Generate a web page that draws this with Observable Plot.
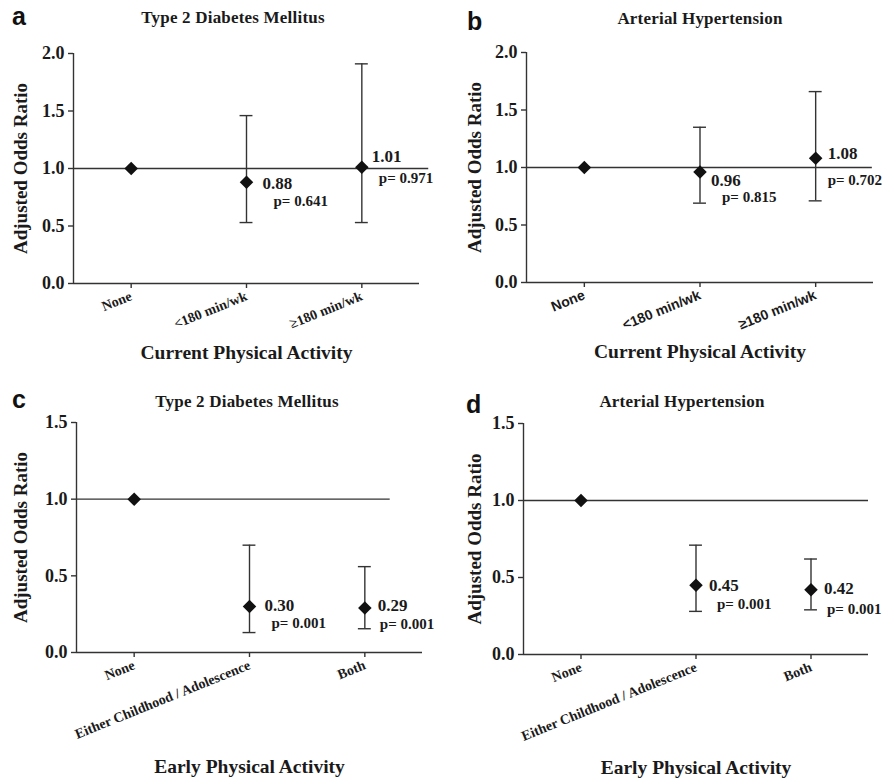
<!DOCTYPE html>
<html>
<head>
<meta charset="utf-8">
<script src="https://cdn.jsdelivr.net/npm/d3@7"></script>
<script src="https://cdn.jsdelivr.net/npm/@observablehq/plot@0.6"></script>
<style>
  html, body { margin: 0; padding: 0; background: #fff; }
  #root { position: relative; width: 882px; height: 780px; background: #fff; overflow: hidden; }
  .panel { position: absolute; width: 441px; }
  .letter { position: absolute; font-family: "Liberation Sans", Arial, sans-serif; font-weight: bold; font-size: 25px; line-height: 26px; color: #111; }
  .title { position: absolute; width: 320px; text-align: center; font-family: "Liberation Serif", "Times New Roman", serif; font-weight: bold; font-size: 17px; line-height: 17px; letter-spacing: 0.2px; color: #1a1a1a; }
  .chart { position: absolute; left: 0; }
</style>
</head>
<body>
<div id="root">
  <div class="panel" id="pa" style="left:0;top:0;height:380px">
    <div class="letter" style="left:12px;top:3px">a</div>
    <div class="title" style="left:73px;top:9px">Type 2 Diabetes Mellitus</div>
    <div class="chart" style="top:30px"></div>
  </div>
  <div class="panel" id="pb" style="left:441px;top:0;height:380px">
    <div class="letter" style="left:26px;top:8px">b</div>
    <div class="title" style="left:99px;top:10px">Arterial Hypertension</div>
    <div class="chart" style="top:30px"></div>
  </div>
  <div class="panel" id="pc" style="left:0;top:380px;height:400px">
    <div class="letter" style="left:12px;top:6px">c</div>
    <div class="title" style="left:87px;top:13px">Type 2 Diabetes Mellitus</div>
    <div class="chart" style="top:30px"></div>
  </div>
  <div class="panel" id="pd" style="left:441px;top:380px;height:400px">
    <div class="letter" style="left:25px;top:11px">d</div>
    <div class="title" style="left:81px;top:13px">Arterial Hypertension</div>
    <div class="chart" style="top:30px"></div>
  </div>
</div>
<script>
// ---------------- data ----------------
const currentCats = ["None", "<180 min/wk", "≥180 min/wk"];
const earlyCats = ["None", "Either Childhood / Adolescence", "Both"];

const dmCurrentOR = [1.00, 0.88, 1.01];
const dmCurrentLo = [null, 0.53, 0.53];
const dmCurrentHi = [null, 1.46, 1.91];
const dmCurrentP  = [null, "0.641", "0.971"];

const htnCurrentOR = [1.00, 0.96, 1.08];
const htnCurrentLo = [null, 0.69, 0.71];
const htnCurrentHi = [null, 1.35, 1.66];
const htnCurrentP  = [null, "0.815", "0.702"];

const dmEarlyOR = [1.00, 0.30, 0.29];
const dmEarlyLo = [null, 0.13, 0.155];
const dmEarlyHi = [null, 0.70, 0.56];
const dmEarlyP  = [null, "0.001", "0.001"];

const htnEarlyOR = [1.00, 0.45, 0.42];
const htnEarlyLo = [null, 0.28, 0.29];
const htnEarlyHi = [null, 0.71, 0.62];
const htnEarlyP  = [null, "0.001", "0.001"];

const ticks20 = [0, 0.5, 1.0, 1.5, 2.0];
const ticks15 = [0, 0.5, 1.0, 1.5];

const yTitle = "Adjusted Odds Ratio";
const xTitleCurrent = "Current Physical Activity";
const xTitleEarly = "Early Physical Activity";

// ---------------- drawing ----------------
const SERIF = '"Liberation Serif", "Times New Roman", serif';
const SANS = '"Liberation Sans", Arial, sans-serif';
const INK = "#1a1a1a";
const LINE = "#333";
const SW = 1.4;

function rows(cats, or, lo, hi, p) {
  return cats.map((c, i) => ({i, cat: c, or: or[i], lo: lo[i], hi: hi[i], p: p[i]}));
}

function panel(cfg) {
  const data = rows(cfg.cats, cfg.or, cfg.lo, cfg.hi, cfg.p);
  const err = data.filter(d => d.lo != null);
  const cap = 0.056;
  const labelMarks = [];
  for (const d of err) {
    const o = cfg.offsets[d.i];
    labelMarks.push(Plot.text([d], {x: "i", y: "or", text: d => d.or.toFixed(2), dx: o[0], dy: o[1], textAnchor: "start", fontSize: 17, fill: INK}));
    labelMarks.push(Plot.text([d], {x: "i", y: "or", text: d => "p= " + d.p, dx: o[2], dy: o[3], textAnchor: "start", fontSize: 15, fill: INK}));
  }
  return Plot.plot({
    width: 441,
    height: cfg.height,
    marginTop: cfg.mt, marginRight: cfg.mr, marginBottom: cfg.mb, marginLeft: cfg.ml,
    style: {background: "transparent", overflow: "visible", fontFamily: SERIF, fontWeight: "bold", color: INK},
    x: {type: "linear", domain: [-0.5, 2.5]},
    y: {type: "linear", domain: cfg.yDomain},
    marks: [
      Plot.ruleY([1], {x1: -0.5, x2: cfg.refEnd, stroke: LINE, strokeWidth: SW}),
      Plot.ruleX([-0.5], {stroke: LINE, strokeWidth: SW}),
      Plot.ruleY([0], {stroke: LINE, strokeWidth: SW}),
      Plot.axisY({ticks: cfg.yTicks, tickFormat: d3.format(".1f"), tickSize: 5, tickPadding: 4, fontSize: 18, label: null, stroke: LINE, strokeWidth: SW, fill: INK}),
      Plot.axisX({ticks: [0, 1, 2], tickFormat: i => cfg.cats[i], tickRotate: -22, tickSize: 5, tickPadding: 7, fontSize: 14, fontFamily: cfg.tickFont, label: null, stroke: LINE, strokeWidth: SW, fill: INK}),
      Plot.ruleX(err, {x: "i", y1: "lo", y2: "hi", stroke: LINE, strokeWidth: SW}),
      Plot.ruleY(err, {y: "hi", x1: d => d.i - cap, x2: d => d.i + cap, stroke: LINE, strokeWidth: SW}),
      Plot.ruleY(err, {y: "lo", x1: d => d.i - cap, x2: d => d.i + cap, stroke: LINE, strokeWidth: SW}),
      Plot.dot(data, {x: "i", y: "or", symbol: "diamond2", r: 6.1, fill: "#111", stroke: "none"}),
      ...labelMarks,
      Plot.text([cfg.xTitle], {frameAnchor: "bottom", lineAnchor: "bottom", textAnchor: "middle", dy: cfg.xTitleOffset, fontSize: 19.5, fill: INK, text: d => d, style: "letter-spacing:0.4px"}),
      Plot.text([yTitle], {frameAnchor: "left", rotate: -90, lineAnchor: "top", textAnchor: "middle", dx: -cfg.yTitleOffset, fontSize: 19, fill: INK, text: d => d})
    ]
  });
}

const configs = [
  {id: "pa", cats: currentCats, or: dmCurrentOR, lo: dmCurrentLo, hi: dmCurrentHi, p: dmCurrentP,
   height: 345, mt: 23, mb: 92, ml: 73, mr: 22, yDomain: [0, 2], yTicks: ticks20, refEnd: 2.58,
   tickFont: SERIF, xTitle: xTitleCurrent, xTitleOffset: 75, yTitleOffset: 60,
   offsets: {1: [16, 1, 27, 19], 2: [10, -11, 17, 11]}},
  {id: "pb", cats: currentCats, or: htnCurrentOR, lo: htnCurrentLo, hi: htnCurrentHi, p: htnCurrentP,
   height: 345, mt: 22, mb: 93, ml: 85, mr: 9, yDomain: [0, 2], yTicks: ticks20, refEnd: 2.49,
   tickFont: SANS, xTitle: xTitleCurrent, xTitleOffset: 75, yTitleOffset: 59,
   offsets: {1: [11, 8, 22, 25], 2: [12, -5, 12, 22]}},
  {id: "pc", cats: earlyCats, or: dmEarlyOR, lo: dmEarlyLo, hi: dmEarlyHi, p: dmEarlyP,
   height: 370, mt: 12, mb: 128, ml: 76, mr: 19, yDomain: [0, 1.5], yTicks: ticks15, refEnd: 2.22,
   tickFont: SERIF, xTitle: xTitleEarly, xTitleOffset: 120, yTitleOffset: 63,
   offsets: {1: [15, -1, 22, 17], 2: [13, -2, 15, 16]}},
  {id: "pd", cats: earlyCats, or: htnEarlyOR, lo: htnEarlyLo, hi: htnEarlyHi, p: htnEarlyP,
   height: 370, mt: 13, mb: 126, ml: 82, mr: 14, yDomain: [0, 1.5], yTicks: ticks15, refEnd: 2.5,
   tickFont: SERIF, xTitle: xTitleEarly, xTitleOffset: 119, yTitleOffset: 56,
   offsets: {1: [13, 0, 21, 19], 2: [13, -1, 16, 19]}}
];

for (const cfg of configs) {
  document.querySelector("#" + cfg.id + " .chart").appendChild(panel(cfg));
}
</script>
</body>
</html>
